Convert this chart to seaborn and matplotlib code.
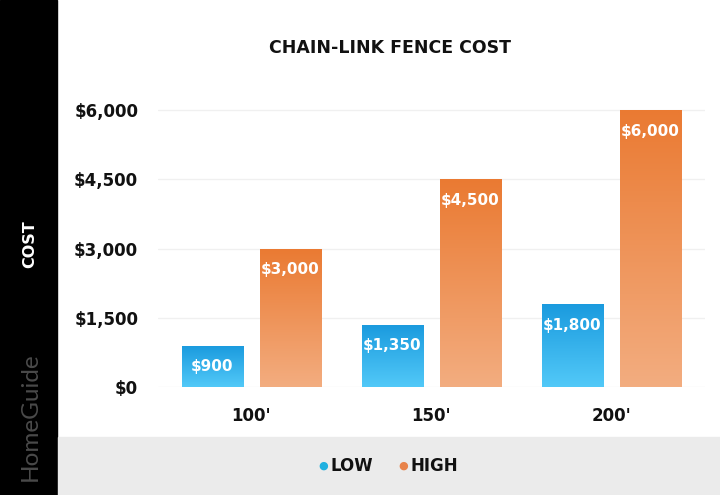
import numpy as np
import pandas as pd
import matplotlib
matplotlib.use("Agg")
import matplotlib.pyplot as plt
from matplotlib.colors import LinearSegmentedColormap
import seaborn as sns

lengths = ["100'", "150'", "200'"]
low_cost = [900, 1350, 1800]
high_cost = [3000, 4500, 6000]
series = ["LOW", "HIGH"]
yticks = [0, 1500, 3000, 4500, 6000]

df = pd.DataFrame({
    "length": lengths * 2,
    "cost": low_cost + high_cost,
    "level": ["LOW"] * 3 + ["HIGH"] * 3,
})

sns.set_style("white")
plt.rcParams["font.family"] = ["DejaVu Sans"]

fig = plt.figure(figsize=(7.2, 4.95), dpi=100)
ax = fig.add_axes([0.219, 0.218, 0.760, 0.569])

colors = {"LOW": "#2aaae8", "HIGH": "#ee8c4c"}
sns.barplot(data=df, x="length", y="cost", hue="level", hue_order=series,
            palette=colors, width=0.868, gap=0.217, legend=False, ax=ax,
            order=lengths)

# vertical gradient fill, clipped to each seaborn bar
grads = {
    "LOW": LinearSegmentedColormap.from_list("lo", ["#52c9f8", "#1a9ade"]),
    "HIGH": LinearSegmentedColormap.from_list("hi", ["#f3ad80", "#ea7a32"]),
}
g = np.linspace(0, 1, 256).reshape(-1, 1)
for patch, lvl in zip(ax.patches, ["LOW"] * 3 + ["HIGH"] * 3):
    x0 = patch.get_x()
    w = patch.get_width()
    h = patch.get_height()
    im = ax.imshow(g, cmap=grads[lvl], origin="lower", aspect="auto",
                   extent=[x0, x0 + w, 0, h], zorder=2)
    im.set_clip_path(patch)
    patch.set_facecolor("none")
    patch.set_edgecolor("none")
    ax.text(x0 + w / 2, h - 460, "${:,}".format(int(h)), ha="center", va="center",
            color="white", fontsize=11, fontweight="bold", zorder=3)

ax.set_xlim(-0.52, 2.52)
ax.set_ylim(0, 6100)
ax.set_yticks(yticks)
ax.set_yticklabels(["${:,}".format(v) for v in yticks])
ax.yaxis.grid(True, color="#f0f0f0", linewidth=1)
ax.set_axisbelow(True)
for s in ax.spines.values():
    s.set_visible(False)
ax.tick_params(axis="y", length=0, pad=14, labelsize=12)
ax.tick_params(axis="x", length=0, pad=14, labelsize=12)
for lbl in ax.get_xticklabels() + ax.get_yticklabels():
    lbl.set_fontweight("bold")
    lbl.set_color("#111111")
ax.set_xlabel("")
ax.set_ylabel("")

# black strip on the left
fig.patches.append(plt.Rectangle((0, 0), 57 / 720, 1, transform=fig.transFigure,
                                 color="black", zorder=0))
# grey legend band
fig.patches.append(plt.Rectangle((58 / 720, 0), 1, 58 / 495, transform=fig.transFigure,
                                 color="#ebebeb", zorder=0))

fig.text(30 / 720, 1 - 244 / 495, "COST", rotation=90, ha="center", va="center",
         color="white", fontsize=11.5, fontweight="bold")
fig.text(30 / 720, 1 - 417 / 495, "HomeGuide", rotation=90, ha="center", va="center",
         color="#4a4a4a", fontsize=17.5, family=["Lato", "DejaVu Sans"])
fig.text(390 / 720, 1 - 48 / 495, "CHAIN-LINK FENCE COST", ha="center", va="center",
         color="#111111", fontsize=12.5, fontweight="bold")

# legend
fig.text(323 / 720, 1 - 466 / 495, "\u25cf", ha="center", va="center",
         color="#1fb0e0", fontsize=8)
fig.text(330 / 720, 1 - 466 / 495, "LOW", ha="left", va="center",
         color="#111111", fontsize=12, fontweight="bold")
fig.text(403 / 720, 1 - 466 / 495, "\u25cf", ha="center", va="center",
         color="#e8834a", fontsize=8)
fig.text(410 / 720, 1 - 466 / 495, "HIGH", ha="left", va="center",
         color="#111111", fontsize=12, fontweight="bold")

fig.savefig("out.png", dpi=100)
